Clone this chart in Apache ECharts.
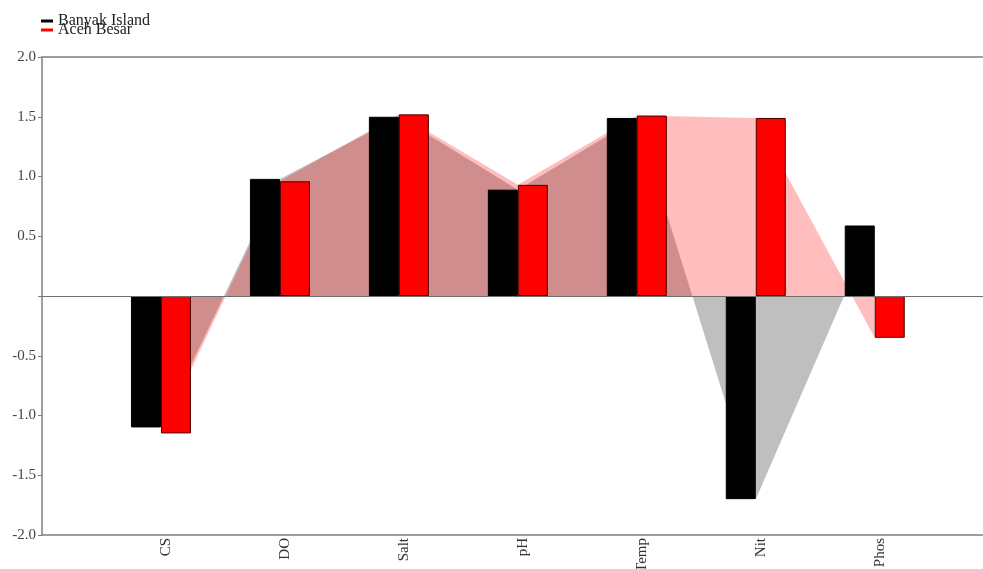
<!DOCTYPE html>
<html>
<head>
<meta charset="utf-8">
<title>Banyak Island vs Aceh Besar</title>
<script src="https://cdn.jsdelivr.net/npm/echarts@6/dist/echarts.min.js"></script>
<style>
  html, body { margin: 0; padding: 0; background: #fff; }
  #chart { width: 983px; height: 569px; }
</style>
</head>
<body>
<div id="chart"></div>
<script>
// Parameters along the horizontal axis
const categories = ['CS', 'DO', 'Salt', 'pH', 'Temp', 'Nit', 'Phos'];
// Standardised scores per site
const banyakIsland = [-1.1, 0.98, 1.5, 0.89, 1.49, -1.7, 0.59];
const acehBesar = [-1.15, 0.96, 1.52, 0.93, 1.51, 1.49, -0.35];
// Vertical axis ticks
const yTicks = [-2.0, -1.5, -1.0, -0.5, 0, 0.5, 1.0, 1.5, 2.0];

const serif = '"Liberation Serif", "Times New Roman", serif';
const toPoints = vals => vals.map((v, i) => [i + 1, v]);

const chart = echarts.init(document.getElementById('chart'), null, { renderer: 'canvas' });

chart.setOption({
  animation: false,
  backgroundColor: '#fff',
  legend: {
    orient: 'vertical',
    left: 36,
    top: 8,
    itemWidth: 12,
    itemHeight: 3,
    itemGap: -7,
    icon: 'rect',
    data: ['Banyak Island', 'Aceh Besar'],
    textStyle: { fontFamily: serif, fontSize: 16, color: '#222' }
  },
  grid: { left: 42, right: 0, top: 57, bottom: 34, outerBoundsMode: 'none', containLabel: false },
  xAxis: [
    {
      type: 'value',
      min: 0,
      max: 7.91,
      interval: 1,
      position: 'bottom',
      axisLine: { show: true, onZero: false, lineStyle: { color: '#7f7f7f', width: 1.5 } },
      axisTick: { show: false },
      splitLine: { show: false },
      axisLabel: {
        rotate: 90,
        margin: 3,
        verticalAlign: 'top',
        padding: [-2, 0, 0, 0],
        fontFamily: serif,
        fontSize: 15,
        color: '#333',
        showMaxLabel: false,
        formatter: v => categories[Math.round(v) - 1] || ''
      }
    },
    {
      type: 'value',
      min: 0,
      max: 7.91,
      position: 'top',
      axisLine: { show: true, onZero: false, lineStyle: { color: '#7f7f7f', width: 1.5 } },
      axisTick: { show: false },
      axisLabel: { show: false },
      splitLine: { show: false }
    }
  ],
  yAxis: {
    type: 'value',
    min: yTicks[0],
    max: yTicks[yTicks.length - 1],
    interval: 0.5,
    axisLine: { show: true, onZero: false, lineStyle: { color: '#7f7f7f', width: 1.5 } },
    axisTick: { show: true, inside: false, length: 4, lineStyle: { color: '#7f7f7f' } },
    splitLine: { show: false },
    axisLabel: {
      margin: 6,
      fontFamily: serif,
      fontSize: 15,
      color: '#444',
      formatter: v => (Math.abs(v) < 1e-9 ? '' : v.toFixed(1))
    }
  },
  series: [
    {
      name: 'Banyak Island',
      type: 'line',
      data: toPoints(banyakIsland),
      symbol: 'none',
      lineStyle: { width: 0 },
      itemStyle: { color: '#000' },
      areaStyle: { color: 'rgba(0,0,0,0.25)', opacity: 1, origin: 0 },
      z: 1,
      silent: true
    },
    {
      name: 'Aceh Besar',
      type: 'line',
      data: toPoints(acehBesar),
      symbol: 'none',
      lineStyle: { width: 0 },
      itemStyle: { color: '#ff0000' },
      areaStyle: { color: 'rgba(255,0,0,0.26)', opacity: 1, origin: 0 },
      z: 1,
      silent: true,
      markLine: {
        silent: true,
        symbol: 'none',
        label: { show: false },
        lineStyle: { color: '#6f6f6f', width: 1, type: 'solid' },
        data: [{ yAxis: 0 }]
      }
    },
    {
      name: 'Banyak Island',
      type: 'bar',
      data: toPoints(banyakIsland),
      barWidth: 30,
      barGap: '0%',
      itemStyle: { color: '#000', borderColor: '#000', borderWidth: 1 },
      z: 3
    },
    {
      name: 'Aceh Besar',
      type: 'bar',
      data: toPoints(acehBesar),
      barWidth: 30,
      barGap: '0%',
      itemStyle: { color: '#ff0000', borderColor: '#4a0000', borderWidth: 1 },
      z: 3
    }
  ]
});
</script>
</body>
</html>
